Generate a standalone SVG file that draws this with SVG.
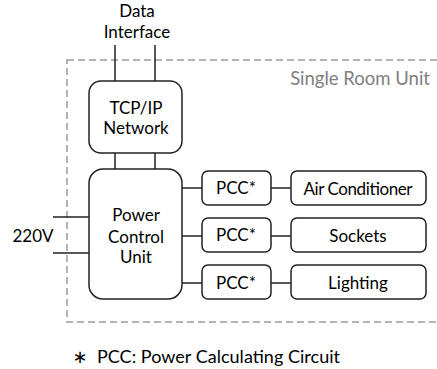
<svg xmlns="http://www.w3.org/2000/svg" width="437" height="369" viewBox="0 0 437 369">
<style>
text{font-family:Lato,"Open Sans","Liberation Sans",sans-serif;font-size:17px;fill:#000;text-anchor:middle}
.box{fill:#fff;stroke:#222;stroke-width:1.5}
.wire{stroke:#222;stroke-width:1.5;fill:none}
.frame{fill:none;stroke:#9a9a9a;stroke-width:1.5;stroke-dasharray:7 4}
.gray{fill:#808080;text-anchor:end;font-size:18.5px}
</style>
<rect width="437" height="369" fill="#fff"/>
<rect class="frame" x="67" y="60" width="400" height="262"/>
<text class="gray" x="430" y="85">Single Room Unit</text>
<g id="connectors">
<path class="wire" d="M115 45V81M155 45V81M115 153V169M155 153V169M53 217H89M53 253H89M182 188H202M182 236H202M182 283H202M271 188H291M271 236H291M271 283H291"/>
</g>
<g id="data-interface"><text x="137" y="17">Data</text><text x="137" y="38">Interface</text></g>
<g id="tcpip"><rect class="box" x="89" y="81" width="93" height="72" rx="12"/><text x="136" y="114">TCP/IP</text><text x="136" y="134">Network</text></g>
<g id="pcu"><rect class="box" x="89" y="169" width="93" height="130" rx="14"/><text x="136" y="221">Power</text><text x="136" y="243">Control</text><text x="136" y="263">Unit</text></g>
<g id="v220"><text x="33" y="242">220V</text></g>
<g id="pcc1"><rect class="box" x="202" y="171" width="69" height="34" rx="6"/><text x="236" y="194">PCC*</text></g>
<g id="pcc2"><rect class="box" x="202" y="218" width="69" height="34" rx="6"/><text x="236" y="241">PCC*</text></g>
<g id="pcc3"><rect class="box" x="202" y="265" width="69" height="34" rx="6"/><text x="236" y="289">PCC*</text></g>
<g id="ac"><rect class="box" x="291" y="171" width="135" height="34" rx="6"/><text x="358" y="195" textLength="109">Air Conditioner</text></g>
<g id="sockets"><rect class="box" x="291" y="218" width="135" height="34" rx="6"/><text x="358" y="242">Sockets</text></g>
<g id="lighting"><rect class="box" x="291" y="265" width="135" height="34" rx="6"/><text x="358" y="289">Lighting</text></g>
<g id="footnote"><text x="80" y="363" style="font-family:'DejaVu Sans',sans-serif;font-size:18px">∗</text><text x="97" y="363" style="text-anchor:start;font-size:18px" textLength="243">PCC: Power Calculating Circuit</text></g>
</svg>
